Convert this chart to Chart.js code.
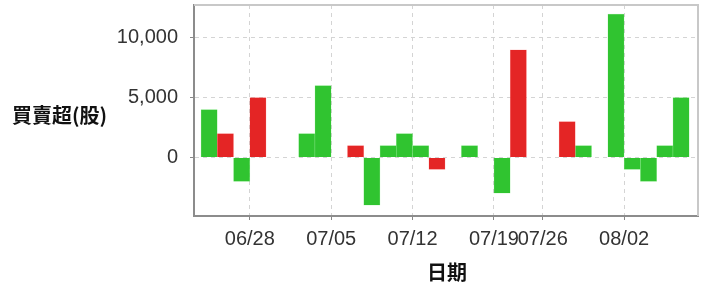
<!DOCTYPE html>
<html>
<head>
<meta charset="utf-8">
<script src="https://cdn.jsdelivr.net/npm/chart.js@4.4.1/dist/chart.umd.min.js"></script>
<style>
  html, body { margin: 0; padding: 0; background: #fff; }
  #wrap { width: 703px; height: 289px; }
</style>
</head>
<body>
<div id="wrap"><canvas id="chart"></canvas></div>
<script>
// trading days (07/24, 07/25 market closed)
const days = ['06/25', '06/26', '06/27', '06/28',
    '07/01', '07/02', '07/03', '07/04', '07/05',
    '07/08', '07/09', '07/10', '07/11', '07/12',
    '07/15', '07/16', '07/17', '07/18', '07/19',
    '07/22', '07/23', '07/26',
    '07/29', '07/30', '07/31', '08/01', '08/02',
    '08/05', '08/06', '08/07'];

const redBars = [null, 2000, null, 5000,
    null, null, null, null, null,
    1000, null, null, null, null,
    -1000, null, null, null, null,
    9000, null, null,
    3000, null, null, null, null,
    null, null, null];

const greenBars = [4000, null, -2000, null,
    null, null, 2000, 6000, null,
    null, -4000, 1000, 2000, 1000,
    null, null, 1000, null, -3000,
    null, null, null,
    null, 1000, null, 12000, -1000,
    -2000, 1000, 5000];

const xTickLabels = ['06/28', '07/05', '07/12', '07/19', '07/26', '08/02'];
const yTickValues = [0, 5000, 10000];

const yTitle = '買賣超(股)';
const xTitle = '日期';

const toPoints = (arr) => arr
    .map((v, i) => ({ x: i, y: v }))
    .filter(p => p.y !== null);

const noEdgePadding = (scale) => {
    scale.paddingTop = 0;
    scale.paddingBottom = 0;
    scale.paddingLeft = 0;
    scale.paddingRight = 0;
};

const frameAndTitles = {
    id: 'frameAndTitles',
    afterDraw(chart) {
        const { ctx, chartArea: a } = chart;
        ctx.save();
        ctx.strokeStyle = '#c8c8c8';
        ctx.lineWidth = 2;
        ctx.beginPath();
        ctx.moveTo(a.left, a.top);
        ctx.lineTo(a.right, a.top);
        ctx.lineTo(a.right, a.bottom);
        ctx.stroke();

        ctx.fillStyle = '#111';
        ctx.font = 'bold 20px "Noto Sans CJK TC", sans-serif';
        ctx.textBaseline = 'middle';
        ctx.textAlign = 'left';
        ctx.fillText(yTitle, 12, 115);
        ctx.textAlign = 'center';
        ctx.fillText(xTitle, 447, 272);
        ctx.restore();
    }
};

new Chart(document.getElementById('chart'), {
    type: 'bar',
    data: {
        datasets: [{
            label: 'red',
            data: toPoints(redBars),
            backgroundColor: '#e42525',
            borderColor: 'rgba(255,120,120,0.6)',
            borderWidth: 0.5
        }, {
            label: 'green',
            data: toPoints(greenBars),
            backgroundColor: '#30c430',
            borderColor: 'rgba(120,230,120,0.6)',
            borderWidth: 0.5
        }]
    },
    plugins: [frameAndTitles],
    options: {
        responsive: true,
        maintainAspectRatio: false,
        animation: false,
        grouped: false,
        barPercentage: 1,
        categoryPercentage: 1,
        layout: { padding: { top: 5, right: 5, left: 0, bottom: 0 } },
        scales: {
            x: {
                type: 'linear',
                offset: false,
                min: -0.93,
                max: 30.04,
                afterBuildTicks: (scale) => {
                    scale.ticks = xTickLabels.map(l => ({ value: days.indexOf(l) - 0.5 }));
                },
                afterFit: (scale) => {
                    scale.height = 73;
                    noEdgePadding(scale);
                },
                ticks: {
                    autoSkip: false,
                    maxRotation: 0,
                    padding: 7,
                    color: '#333',
                    font: { family: '"Liberation Sans", Arial, sans-serif', size: 20 },
                    callback: (v, i) => xTickLabels[i]
                },
                grid: {
                    offset: false,
                    color: '#d4d4d4',
                    tickColor: '#888',
                    tickLength: 4,
                    tickBorderDash: []
                },
                border: { color: '#8c8c8c', width: 2, dash: [4, 4] }
            },
            y: {
                min: -4900,
                max: 12750,
                afterBuildTicks: (scale) => {
                    scale.ticks = yTickValues.map(v => ({ value: v }));
                },
                afterFit: (scale) => {
                    scale.width = 194;
                    noEdgePadding(scale);
                },
                ticks: {
                    padding: 12,
                    color: '#333',
                    font: { family: '"Liberation Sans", Arial, sans-serif', size: 20 },
                    callback: (v) => v.toLocaleString('en-US')
                },
                grid: {
                    color: '#d4d4d4',
                    tickColor: '#888',
                    tickLength: 4,
                    tickBorderDash: []
                },
                border: { color: '#8c8c8c', width: 2, dash: [4, 4] }
            }
        },
        plugins: {
            legend: { display: false },
            tooltip: { enabled: false }
        }
    }
});
</script>
</body>
</html>
